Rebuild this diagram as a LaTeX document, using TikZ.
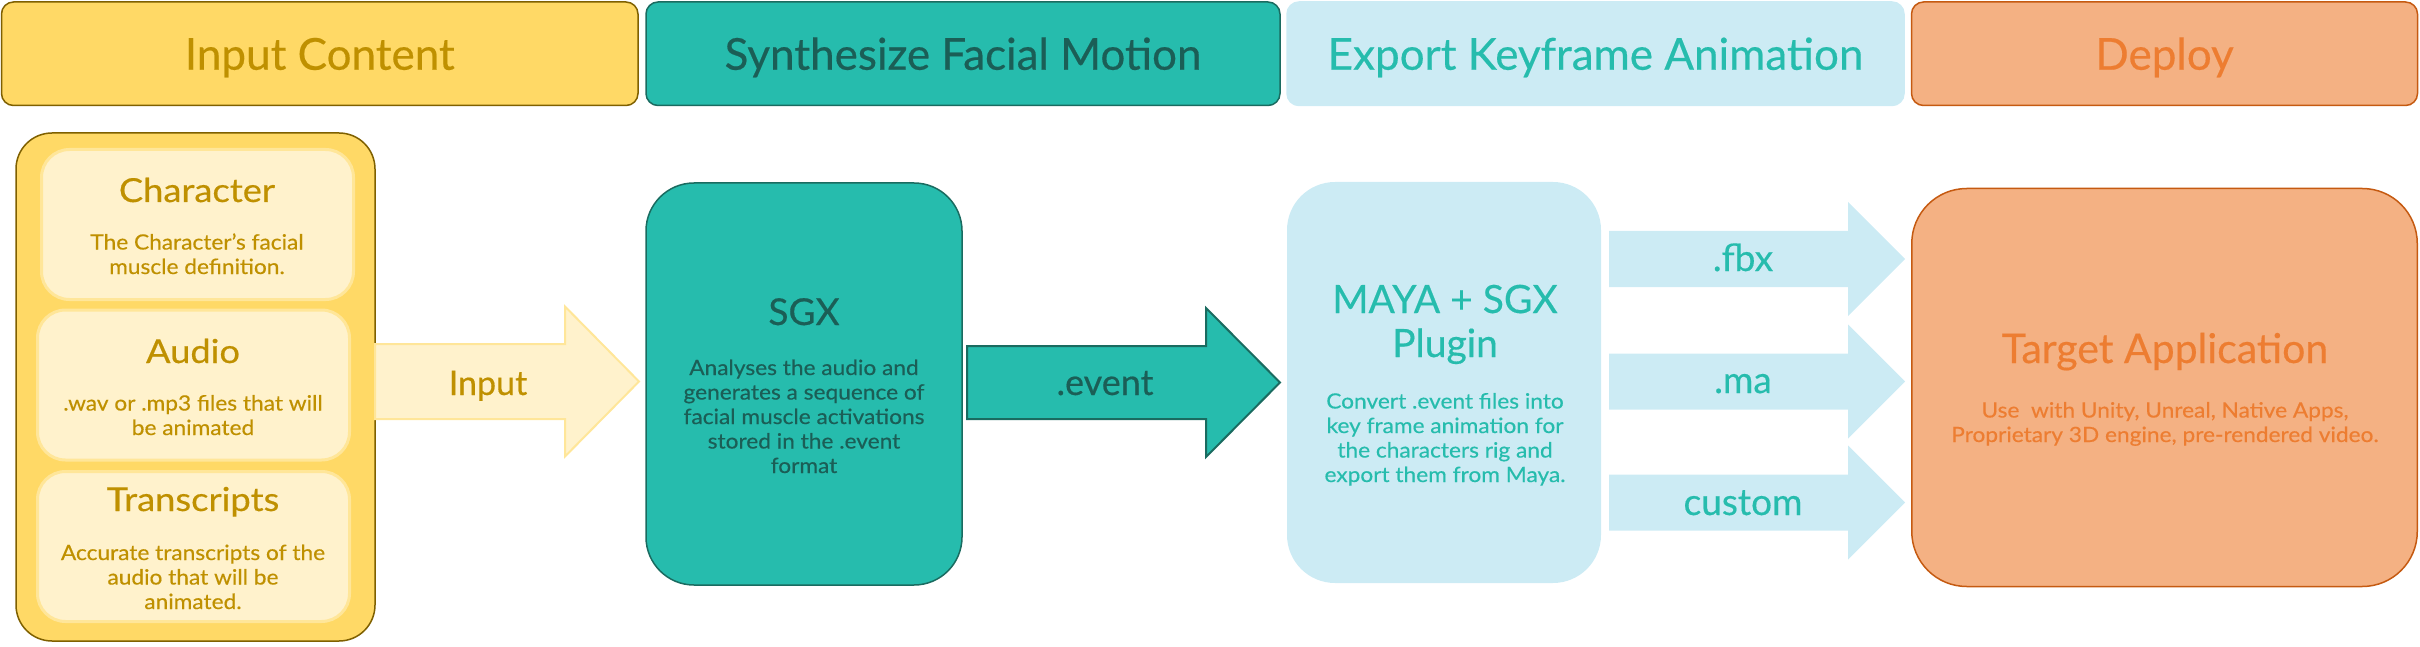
\documentclass[tikz,border=0pt]{standalone}
\usepackage{fontspec}
\setmainfont{Lato}[FakeBold=0.4]
\newfontfamily\descfamily{Lato}[FakeStretch=1.08, FakeBold=0.4]
\newfontfamily\ttlfamily{Lato}[FakeStretch=1.1, FakeBold=0.4]

\definecolor{gold}{HTML}{FFD966}
\definecolor{golddark}{HTML}{7F6000}
\definecolor{goldtext}{HTML}{BF9000}
\definecolor{cream}{HTML}{FFF2CC}
\definecolor{creamline}{HTML}{FFE699}
\definecolor{sgxteal}{HTML}{26BCAD}
\definecolor{sgxdark}{HTML}{1A6B60}
\definecolor{sgxtext}{HTML}{1B5E56}
\definecolor{mayablue}{HTML}{CCEBF4}
\definecolor{deployfill}{HTML}{F4B183}
\definecolor{deployline}{HTML}{C55A11}
\definecolor{deploytext}{HTML}{ED7D31}

\newcommand{\hdrfont}{\fontsize{44}{52}\selectfont}
\newcommand{\ttlfont}{\ttlfamily\fontsize{33}{40}\selectfont}
\newcommand{\lblfont}{\fontsize{37}{44}\selectfont}
\newcommand{\descfont}{\descfamily\fontsize{21}{24.5}\selectfont}
% block arrow: style, shaft start x, head x, tip x, mid y, shaft half, head half
\newcommand{\fatarrow}[7]{%
  \draw[#1] (#2,#5-#6) -- (#3,#5-#6) -- (#3,#5-#7) -- (#4,#5)
    -- (#3,#5+#7) -- (#3,#5+#6) -- (#2,#5+#6) -- cycle;}

\begin{document}
\begin{tikzpicture}[x=1pt, y=-1pt, line width=1.5pt,
    hdr/.style={rounded corners=12pt, minimum height=103.5pt, inner sep=0pt,
      font=\hdrfont, text height=32pt, text depth=0pt},
    lane/.style={rounded corners=#1, inner sep=0pt},
    card/.style={rounded corners=28pt, fill=cream, draw=creamline, line width=3pt,
      minimum width=312pt, minimum height=150pt, inner sep=0pt},
    txt/.style={inner sep=0pt, align=center, anchor=base},
    inarrow/.style={fill=cream, draw=creamline, line width=2pt},
    evarrow/.style={fill=sgxteal, draw=sgxdark, line width=2pt},
    exparrow/.style={fill=mayablue, draw=none}]
  \useasboundingbox (0,0) rectangle (2420,647);

  % Header row
  \node[hdr, fill=gold, draw=golddark, text=goldtext, minimum width=636.5pt] (hdrinput) at (319.75,53.75) {Input Content};
  \node[hdr, fill=sgxteal, draw=sgxdark, text=sgxtext, minimum width=634pt] (hdrsynth) at (963,53.75) {Synthesize Facial Motion};
  \node[hdr, fill=mayablue, draw=mayablue, text=sgxteal, minimum width=617pt] (hdrexport) at (1595.5,53.75) {Export Keyframe Animation};
  \node[hdr, fill=deployfill, draw=deployline, text=deploytext, minimum width=506pt] (hdrdeploy) at (2164.5,53.75) {Deploy};

  % Input content
  \node[lane=36pt, fill=gold, draw=golddark, minimum width=359pt, minimum height=508pt] (inputbox) at (195.5,387) {};
  \node[card] (charbox) at (197.5,224.5) {};
  \node[card] (audiobox) at (193.5,385) {};
  \node[card] (transbox) at (193.5,546.5) {};

  % (multi-line texts sit on their last baseline)
  \node[txt, text=goldtext, font=\ttlfont] (chartitle) at (197,202) {Character};
  \node[txt, text=goldtext, font=\descfont] (chardesc) at (197,274) {The Character’s facial\\muscle definition.};
  \node[txt, text=goldtext, font=\ttlfont] (audiotitle) at (193,363) {Audio};
  \node[txt, text=goldtext, font=\descfont] (audiodesc) at (193,435) {.wav or .mp3 files that will\\be animated};
  \node[txt, text=goldtext, font=\ttlfont] (transtitle) at (193,511) {Transcripts};
  \node[txt, text=goldtext, font=\descfont] (transdesc) at (193,609) {Accurate transcripts of the\\audio that will be\\animated.};

  % Input arrow
  \fatarrow{inarrow}{375}{565}{639}{381.5}{37.5}{75}
  \node[txt, text=goldtext, font=\fontsize{34}{40}\selectfont] (inlbl) at (488,395) {Input};

  % SGX
  \node[lane=48pt, fill=sgxteal, draw=sgxdark, minimum width=316pt, minimum height=402pt] (sgx) at (804,384) {};
  \node[txt, text=sgxtext, font=\fontsize{37}{44}\selectfont] (sgxtitle) at (804,325) {SGX};
  \node[txt, text=sgxtext, font=\descfont] (sgxdesc) at (804,473) {Analyses the audio and\\generates a sequence of\\facial muscle activations\\stored in the .event\\format};

  % .event arrow
  \fatarrow{evarrow}{967}{1206}{1280}{382.5}{36.5}{74.5}
  \node[txt, text=sgxtext, font=\fontsize{36}{44}\selectfont] (evlbl) at (1105,395) {.event};

  % Maya plugin
  \node[lane=48pt, fill=mayablue, minimum width=314pt, minimum height=401pt] (maya) at (1444,382.5) {};
  \node[txt, text=sgxteal, font=\fontsize{39}{44}\selectfont] (mayatitle) at (1445,357) {MAYA + SGX\\Plugin};
  \node[txt, text=sgxteal, font=\descfont] (mayadesc) at (1445,482) {Convert .event files into\\key frame animation for\\the characters rig and\\export them from Maya.};

  % Export arrows
  \fatarrow{exparrow}{1609}{1848}{1905}{259}{28}{57}
  \fatarrow{exparrow}{1609}{1848}{1905}{381.5}{28}{57}
  \fatarrow{exparrow}{1609}{1848}{1905}{502.5}{28}{57}
  \node[txt, text=sgxteal, font=\lblfont] (fbxlbl) at (1743,271) {.fbx};
  \node[txt, text=sgxteal, font=\lblfont] (malbl) at (1743,393) {.ma};
  \node[txt, text=sgxteal, font=\lblfont] (customlbl) at (1743,515) {custom};

  % Target application
  \node[lane=55pt, fill=deployfill, draw=deployline, minimum width=505.5pt, minimum height=398pt] (target) at (2164.5,387.5) {};
  \node[txt, text=deploytext, font=\fontsize{41}{48}\selectfont] (tgttitle) at (2165,363) {Target Application};
  \node[txt, text=deploytext, font=\descfont] (tgtdesc) at (2165,442) {Use\ \ with Unity, Unreal, Native Apps,\\Proprietary 3D engine, pre-rendered video.};
\end{tikzpicture}
\end{document}
